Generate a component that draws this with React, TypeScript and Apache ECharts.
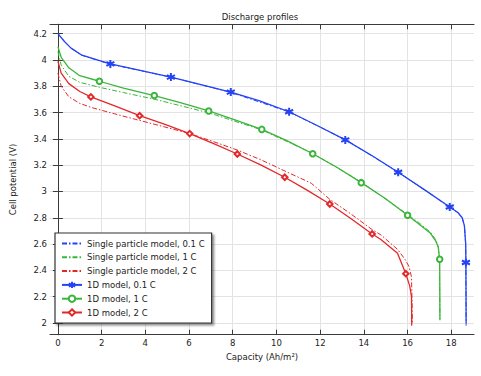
import React, { useEffect, useRef } from 'react';
import * as echarts from 'echarts';

const xTicks = [0, 2, 4, 6, 8, 10, 12, 14, 16, 18];
const yTicks = [2, 2.2, 2.4, 2.6, 2.8, 3, 3.2, 3.4, 3.6, 3.8, 4, 4.2];

const seriesNames = [
  'Single particle model, 0.1 C',
  'Single particle model, 1 C',
  'Single particle model, 2 C',
  '1D model, 0.1 C',
  '1D model, 1 C',
  '1D model, 2 C',
];

// Single particle model curves
const spm01: number[][] = [
  [0, 4.2], [0.3, 4.14], [0.6, 4.09], [1.1, 4.035], [1.8, 3.998], [2.4, 3.968], [5.2, 3.868],
  [7.9, 3.754], [10.6, 3.604], [13.2, 3.39], [15.6, 3.144], [17.9, 2.884], [18.3, 2.84],
  [18.5, 2.8], [18.6, 2.74], [18.66, 2.6], [18.68, 1.98],
];
const spm1: number[][] = [
  [0, 4.065], [0.15, 3.96], [0.5, 3.875], [1.0, 3.83], [1.9, 3.792], [3, 3.752], [4.41, 3.702],
  [6.9, 3.598], [9.33, 3.468], [11.66, 3.29], [13.88, 3.072], [16.0, 2.825], [16.5, 2.765],
  [17.05, 2.69], [17.3, 2.63], [17.42, 2.57], [17.46, 2.45], [17.48, 2.03],
];
const spm2: number[][] = [
  [0, 3.9], [0.15, 3.8], [0.5, 3.72], [1.0, 3.67], [1.5, 3.64], [2.6, 3.59], [3.74, 3.54],
  [4.9, 3.49], [6.03, 3.44], [7.1, 3.38], [8.21, 3.315], [9.3, 3.24], [10.38, 3.156],
  [11.6, 3.062], [12.44, 2.94], [13.4, 2.83], [14.38, 2.71], [14.78, 2.67], [15.54, 2.56],
  [15.9, 2.48], [16.07, 2.428], [16.18, 2.35], [16.2, 2.2], [16.22, 2.0],
];

// 1D model curves (line points) and their marker points
const d01Line: number[][] = [
  [0, 4.2], [0.3, 4.14], [0.6, 4.09], [1.1, 4.036], [1.8, 4.0], [3.5, 3.93], [6.5, 3.815],
  [9.2, 3.69], [12, 3.49], [14.4, 3.27], [16.8, 3.01], [18.3, 2.84], [18.5, 2.8], [18.6, 2.74],
  [18.66, 2.6], [18.68, 2.0],
];
const d01Marks: number[][] = [
  [2.4, 3.97], [5.17, 3.87], [7.91, 3.756], [10.58, 3.606], [13.15, 3.392], [15.57, 3.146],
  [17.93, 2.882], [18.67, 2.46],
];
const d1Line: number[][] = [
  [0, 4.1], [0.15, 4.02], [0.5, 3.94], [1.0, 3.88], [3.0, 3.785], [5.6, 3.675], [8.1, 3.545],
  [10.5, 3.385], [12.8, 3.18], [15, 2.945], [16.5, 2.755], [17.05, 2.682], [17.3, 2.62],
  [17.4, 2.58], [17.48, 2.02],
];
const d1Marks: number[][] = [
  [1.9, 3.838], [4.41, 3.729], [6.9, 3.612], [9.33, 3.472], [11.66, 3.287], [13.88, 3.067],
  [16.0, 2.819], [17.47, 2.484],
];
const d2Line: number[][] = [
  [0, 3.99], [0.15, 3.9], [0.5, 3.82], [1.0, 3.76], [2.6, 3.65], [4.9, 3.51], [7.1, 3.365],
  [9.3, 3.2], [11.4, 3.01], [13.4, 2.795], [14.78, 2.635], [15.54, 2.53], [16.1, 2.28],
  [16.18, 2.2], [16.19, 1.98],
];
const d2Marks: number[][] = [
  [1.51, 3.719], [3.74, 3.576], [6.03, 3.44], [8.21, 3.285], [10.38, 3.108], [12.44, 2.905],
  [14.38, 2.677], [15.92, 2.375],
];

const BLUE = '#2443f5';
const GREEN = '#3bb53b';
const RED = '#e3282b';
const FONT = 'DejaVu Sans';
const FS = 8.5;

const ASTERISK = 'path://M5 0 L5 10 M0.67 2.5 L9.33 7.5 M0.67 7.5 L9.33 2.5';

function merge(line: number[][], marks: number[][]) {
  const all = [
    ...line.map((p) => ({ value: p, symbol: 'none' as string | undefined })),
    ...marks.map((p) => ({ value: p, symbol: undefined as string | undefined })),
  ];
  all.sort((a, b) => b.value[1] - a.value[1]);
  return all.map((d) => (d.symbol ? { value: d.value, symbol: d.symbol } : { value: d.value }));
}

export default function App() {
  const ref = useRef<HTMLDivElement>(null);
  useEffect(() => {
    if (!ref.current) return;
    const chart = echarts.init(ref.current, undefined, { renderer: 'svg' });
    const axisColor = '#3a3a3a';
    const gridColor = '#e3e3e3';
    const xMin = -0.362;
    const xMax = 19.04;
    const yMin = 1.911;
    const yMax = 4.271;
    const spmSeries = (name: string, data: number[][], color: string) => ({
      name,
      type: 'line',
      data,
      symbol: 'none',
      lineStyle: { color, width: 1, type: [5, 2, 1.5, 2] },
      itemStyle: { color },
      z: 2,
    });
    const dSeries = (name: string, data: any[], color: string, symbol: string, size: number, bw: number) => ({
      name,
      type: 'line',
      data,
      symbol,
      symbolSize: size,
      showAllSymbol: true,
      lineStyle: { color, width: 1.3 },
      itemStyle: { color, borderColor: color, borderWidth: bw },
      z: 3,
    });
    const hidden = { color: 'transparent', borderColor: 'transparent', borderWidth: 0 };
    chart.setOption({
      animation: false,
      textStyle: { fontFamily: FONT },
      graphic: [
        {
          type: 'text',
          x: 260,
          y: 17,
          style: {
            text: 'Discharge profiles',
            align: 'center',
            verticalAlign: 'middle',
            fontFamily: FONT,
            fontSize: FS,
            fill: '#222',
          },
        },
      ],
      grid: { left: 45.7, top: 24.3, right: 7, bottom: 41.3, containLabel: false },
      legend: {
        orient: 'vertical',
        left: 55,
        top: 233,
        itemWidth: 20,
        itemHeight: 8,
        itemGap: 4.8,
        padding: [6, 7, 6, 6],
        backgroundColor: '#fff',
        borderColor: '#333',
        borderWidth: 1.2,
        borderRadius: 0,
        shadowColor: 'rgba(0,0,0,0.45)',
        shadowBlur: 2,
        shadowOffsetX: 2,
        shadowOffsetY: 2,
        textStyle: { fontFamily: FONT, fontSize: FS, color: '#222', padding: [0, 0, 0, 0] },
        data: [
          { name: seriesNames[0], itemStyle: hidden },
          { name: seriesNames[1], itemStyle: hidden },
          { name: seriesNames[2], itemStyle: hidden },
          { name: seriesNames[3] },
          { name: seriesNames[4] },
          { name: seriesNames[5] },
        ],
      },
      xAxis: [
        {
          type: 'value',
          min: xMin,
          max: xMax,
          position: 'bottom',
          name: 'Capacity (Ah/m²)',
          nameLocation: 'middle',
          nameGap: 14,
          nameTextStyle: { fontFamily: FONT, fontSize: FS, color: '#222' },
          axisLine: { show: true, lineStyle: { color: axisColor, width: 1 } },
          axisTick: { show: true, inside: true, length: 5, customValues: xTicks, lineStyle: { color: axisColor } },
          axisLabel: {
            customValues: xTicks,
            fontFamily: FONT,
            fontSize: FS,
            color: '#222',
            margin: 4,
            formatter: (v: number) => String(Math.round(v)),
          },
          splitLine: { show: true, lineStyle: { color: gridColor, width: 1 } },
        },
        {
          type: 'value',
          min: xMin,
          max: xMax,
          position: 'top',
          axisLine: { show: true, lineStyle: { color: axisColor, width: 1 } },
          axisTick: { show: true, inside: true, length: 5, customValues: xTicks, lineStyle: { color: axisColor } },
          axisLabel: { show: false },
          splitLine: { show: false },
        },
      ],
      yAxis: [
        {
          type: 'value',
          min: yMin,
          max: yMax,
          position: 'left',
          name: 'Cell potential (V)',
          nameLocation: 'middle',
          nameGap: 33,
          nameTextStyle: { fontFamily: FONT, fontSize: FS, color: '#222' },
          axisLine: { show: true, lineStyle: { color: axisColor, width: 1 } },
          axisTick: { show: true, inside: true, length: 5, customValues: yTicks, lineStyle: { color: axisColor } },
          axisLabel: {
            customValues: yTicks,
            fontFamily: FONT,
            fontSize: FS,
            color: '#222',
            margin: 3,
            formatter: (v: number) => String(+v.toFixed(1)),
          },
          splitLine: { show: true, lineStyle: { color: gridColor, width: 1 } },
        },
        {
          type: 'value',
          min: yMin,
          max: yMax,
          position: 'right',
          axisLine: { show: true, lineStyle: { color: axisColor, width: 1 } },
          axisTick: { show: true, inside: true, length: 5, customValues: yTicks, lineStyle: { color: axisColor } },
          axisLabel: { show: false },
          splitLine: { show: false },
        },
      ],
      series: [
        spmSeries(seriesNames[0], spm01, BLUE),
        spmSeries(seriesNames[1], spm1, GREEN),
        spmSeries(seriesNames[2], spm2, RED),
        dSeries(seriesNames[3], merge(d01Line, d01Marks), BLUE, ASTERISK, 8, 2),
        dSeries(seriesNames[4], merge(d1Line, d1Marks), GREEN, 'emptyCircle', 5.5, 1),
        dSeries(seriesNames[5], merge(d2Line, d2Marks), RED, 'emptyDiamond', 5.5, 1),
      ],
    });
    return () => chart.dispose();
  }, []);
  return (
    <div
      ref={ref}
      style={{ position: 'fixed', left: 0, top: 0, width: 481, height: 376, background: '#fff' }}
    />
  );
}
